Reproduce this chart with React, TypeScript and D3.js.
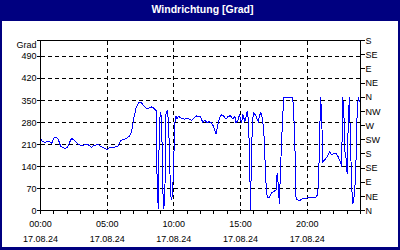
import React from "react";
import * as d3 from "d3";

const TITLE = "Windrichtung [Grad]";
const UNIT = "Grad";
const DATE_LABEL = "17.08.24";

const TIMES = [
  "00:00","00:10","00:20","00:30","00:40","00:50","01:00","01:10","01:20","01:30","01:40","01:50",
  "02:00","02:10","02:20","02:30","02:40","02:50","03:00","03:10","03:20","03:30","03:40","03:50",
  "04:00","04:10","04:20","04:30","04:40","04:50","05:00","05:10","05:20","05:30","05:40","05:50",
  "06:00","06:10","06:20","06:30","06:40","06:50","07:00","07:10","07:20","07:30","07:40","07:50",
  "08:00","08:10","08:20","08:30","08:40","08:45","08:50","08:55","09:00","09:05","09:10","09:15",
  "09:20","09:25","09:30","09:35","09:40","09:45","09:50","09:55","10:00","10:05","10:10","10:15",
  "10:20","10:30","10:40","10:50","11:00","11:10","11:20","11:30","11:40","11:50","12:00","12:10",
  "12:20","12:30","12:40","12:50","13:00","13:10","13:15","13:25","13:35","13:45","13:55","14:05",
  "14:15","14:25","14:35","14:40","14:50","14:55","15:05","15:10","15:20","15:30","15:35","15:40",
  "15:45","15:50","15:55","16:00","16:05","16:10","16:15","16:20","16:25","16:30","16:35","16:40",
  "16:45","16:50","16:55","17:00","17:05","17:10","17:20","17:30","17:40","17:45","17:50","17:55",
  "18:00","18:05","18:10","18:15","18:25","18:35","18:45","18:55","19:00","19:05","19:10","19:15",
  "19:20","19:30","19:40","19:50","20:00","20:10","20:20","20:30","20:40","20:45","20:50","20:55",
  "21:00","21:05","21:10","21:15","21:20","21:30","21:40","21:50","22:00","22:10","22:20","22:30",
  "22:35","22:40","22:45","22:50","22:55","23:00","23:05","23:10","23:15","23:20","23:25","23:30",
  "23:35","23:40","23:45","23:50","23:55",
];

const VALUES = [
  227,219,217,219,220,213,230,232,226,205,199,198,
  199,215,229,224,217,211,207,207,209,211,206,201,
  206,208,209,204,200,197,192,199,201,201,202,205,
  221,225,227,231,236,250,295,325,341,344,337,328,
  323,326,329,325,318,85,5,285,308,300,69,5,
  70,315,316,290,200,48,35,60,170,280,300,291,
  300,295,292,290,293,290,287,294,301,297,299,280,
  287,278,283,278,265,244,262,294,305,299,291,299,
  301,291,299,278,289,305,278,305,283,315,290,200,
  2,200,293,310,305,300,290,283,298,310,305,285,
  250,165,85,45,40,42,56,60,66,120,80,22,
  130,220,300,360,360,360,360,360,300,200,37,35,
  33,33,38,37,40,42,42,42,43,48,75,186,
  359,314,154,158,162,170,186,178,181,181,170,154,
  138,360,314,186,165,117,282,360,218,80,21,37,
  74,165,314,360,346,
];

const LEFT_TICKS = [0, 70, 140, 210, 280, 350, 420, 490];
const RIGHT_TICK_VALUES = [0, 45, 90, 135, 180, 225, 270, 315, 360, 405, 450, 495, 540];
const RIGHT_TICK_LABELS = ["N", "NE", "E", "SE", "S", "SW", "W", "NW", "N", "NE", "E", "SE", "S"];
const X_LABEL_HOURS = [0, 5, 10, 15, 20];
const X_GRID_HOURS = [5, 10, 15, 20];
const X_MINOR_HOURS = d3.range(0, 25, 1);

const W = 400;
const H = 250;
const NAVY = "#000080";
const FONT = "'Liberation Sans', Arial, sans-serif";

function toHours(t: string): number {
  const [h, m] = t.split(":").map(Number);
  return h + m / 60;
}

export default function App() {
  const x = d3.scaleLinear().domain([0, 24]).range([40.5, 360.5]);
  const y = d3.scaleLinear().domain([0, 540]).range([210.5, 40.5]);

  const data = TIMES.map((t, i) => ({ h: toHours(t), v: VALUES[i] }));
  const line = d3
    .line<{ h: number; v: number }>()
    .x((d) => x(d.h))
    .y((d) => y(d.v));

  const x0 = x(0);
  const x1 = x(24);
  const yTop = y(540);
  const yBot = y(0);

  return (
    <svg
      width={W}
      height={H}
      style={{ position: "absolute", left: 0, top: 0, display: "block" }}
      fontFamily={FONT}
    >
      <rect x={0} y={0} width={W} height={H} fill={NAVY} />
      <rect x={2} y={21} width={W - 4} height={H - 24} fill="#ffffff" />
      <text
        x={202.5}
        y={12.5}
        textAnchor="middle"
        fill="#ffffff"
        fontWeight="bold"
        fontSize={10.5}
      >
        {TITLE}
      </text>

      {/* grid */}
      <g stroke="#000" strokeWidth={1} strokeDasharray="4,3" shapeRendering="crispEdges">
        {LEFT_TICKS.filter((v) => v > 0).map((v) => (
          <line key={"gy" + v} x1={x0} x2={x1} y1={y(v)} y2={y(v)} />
        ))}
        {X_GRID_HOURS.map((h) => (
          <line key={"gx" + h} x1={x(h)} x2={x(h)} y1={yTop} y2={yBot} />
        ))}
      </g>

      {/* data line */}
      <path
        d={line(data) || ""}
        fill="none"
        stroke="#0000ff"
        strokeWidth={1}
        shapeRendering="crispEdges"
      />

      {/* frame */}
      <rect
        x={x0}
        y={yTop}
        width={x1 - x0}
        height={yBot - yTop}
        fill="none"
        stroke="#000"
        strokeWidth={1}
        shapeRendering="crispEdges"
      />

      {/* left ticks */}
      <g stroke="#000" shapeRendering="crispEdges">
        {LEFT_TICKS.map((v) => (
          <line key={"lt" + v} x1={x0 - 4} x2={x0} y1={y(v)} y2={y(v)} />
        ))}
        <line x1={x0 - 4} x2={x0} y1={yTop} y2={yTop} />
        {RIGHT_TICK_VALUES.map((v) => (
          <line key={"rt" + v} x1={x1} x2={x1 + 4} y1={y(v)} y2={y(v)} />
        ))}
        {X_MINOR_HOURS.map((h) => (
          <line key={"xt" + h} x1={x(h)} x2={x(h)} y1={yBot} y2={yBot + 3} />
        ))}
      </g>

      <g fontSize={9} fill="#000">
        {LEFT_TICKS.map((v) => (
          <text key={"ll" + v} x={36.5} y={y(v) + 3.2} textAnchor="end">
            {v}
          </text>
        ))}
        <text x={36.5} y={48.3} textAnchor="end">
          {UNIT}
        </text>
        {RIGHT_TICK_VALUES.map((v, i) => (
          <text key={"rl" + v} x={365.5} y={y(v) + 3.2} textAnchor="start">
            {RIGHT_TICK_LABELS[i]}
          </text>
        ))}
        {X_LABEL_HOURS.map((h) => (
          <g key={"xl" + h}>
            <text x={x(h)} y={226.7} textAnchor="middle">
              {String(h).padStart(2, "0") + ":00"}
            </text>
            <text x={x(h)} y={242.3} textAnchor="middle">
              {DATE_LABEL}
            </text>
          </g>
        ))}
      </g>
    </svg>
  );
}
